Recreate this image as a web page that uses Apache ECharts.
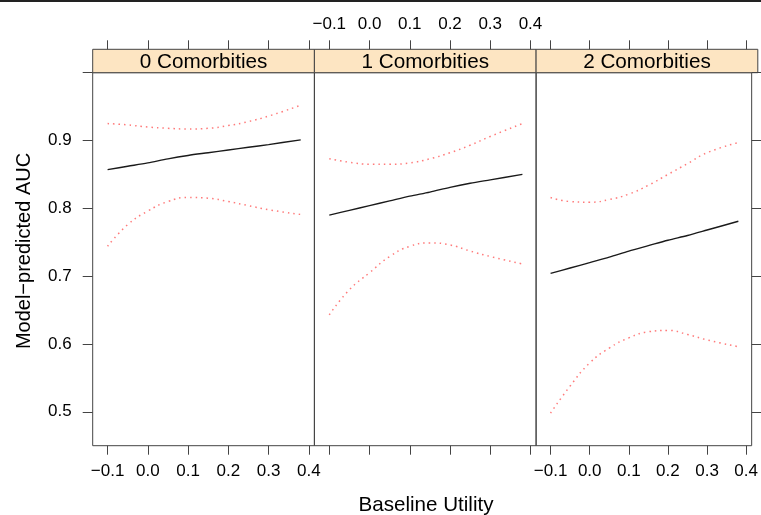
<!DOCTYPE html>
<html>
<head>
<meta charset="utf-8">
<script src="https://cdn.jsdelivr.net/npm/echarts@6/dist/echarts.min.js"></script>
<style>
  html, body { margin: 0; padding: 0; background: #fff; }
  #main { width: 761px; height: 515px; }
</style>
</head>
<body>
<div id="main"></div>
<script>
// panel names
var panels = ['0 Comorbities', '1 Comorbities', '2 Comorbities'];

// baseline utility values where the curves are read
var utility = [-0.1, -0.05, 0.0, 0.05, 0.1, 0.15, 0.2, 0.25, 0.3, 0.38];

// model-predicted AUC, one array per panel
var fit0 = [0.857, 0.862, 0.867, 0.873, 0.878, 0.882, 0.886, 0.890, 0.894, 0.901];
var upper0 = [0.925, 0.923, 0.920, 0.918, 0.917, 0.918, 0.922, 0.928, 0.936, 0.952];
var lower0 = [0.744, 0.776, 0.796, 0.810, 0.816, 0.815, 0.810, 0.804, 0.798, 0.791];

var fit1 = [0.790, 0.797, 0.804, 0.811, 0.818, 0.824, 0.831, 0.837, 0.842, 0.850];
var upper1 = [0.873, 0.868, 0.865, 0.865, 0.867, 0.873, 0.882, 0.893, 0.906, 0.925];
var lower1 = [0.643, 0.680, 0.705, 0.729, 0.744, 0.749, 0.746, 0.737, 0.729, 0.718];

var fit2 = [0.704, 0.712, 0.720, 0.728, 0.737, 0.745, 0.753, 0.760, 0.768, 0.781];
var upper2 = [0.816, 0.810, 0.809, 0.813, 0.821, 0.834, 0.850, 0.866, 0.882, 0.897];
var lower2 = [0.498, 0.538, 0.572, 0.594, 0.609, 0.618, 0.620, 0.614, 0.606, 0.596];

// axis ticks
var xTicks = [-0.1, 0.0, 0.1, 0.2, 0.3, 0.4];
var yTicks = [0.5, 0.6, 0.7, 0.8, 0.9, 1.0];
var yLabels = [0.5, 0.6, 0.7, 0.8, 0.9];

var fits = [fit0, fit1, fit2];
var uppers = [upper0, upper1, upper2];
var lowers = [lower0, lower1, lower2];

var FONT = '"Liberation Sans", Arial, sans-serif';
var panelLeft = 92.7, panelW = 221.7, panelTop = 72.7, panelH = 373;
var stripTop = 49.3, stripH = 23.4;

function pairs(ys) {
    return utility.map(function (x, i) { return [x, ys[i]]; });
}
function fmt(v) {
    return v.toFixed(1).replace('-', '\u2212');
}

var grids = [], xAxes = [], yAxes = [], series = [], graphics = [];

for (var i = 0; i < 3; i++) {
    var left = panelLeft + i * panelW;
    grids.push({
        left: left, top: panelTop, width: panelW, height: panelH,
        show: true, borderColor: '#444', borderWidth: 1
    });

    // bottom axis
    xAxes.push({
        type: 'value', gridIndex: i, position: 'bottom',
        min: -0.137, max: 0.414,
        axisLine: { show: false, onZero: false },
        splitLine: { show: false },
        axisTick: { show: true, inside: false, length: 9, customValues: xTicks,
            lineStyle: { color: '#444' } },
        axisLabel: { show: i !== 1, customValues: xTicks, formatter: fmt,
            fontSize: 17, color: '#000', fontFamily: FONT, margin: 17 }
    });
    // top axis above the strip
    xAxes.push({
        type: 'value', gridIndex: i, position: 'top', offset: stripH,
        min: -0.137, max: 0.414,
        axisLine: { show: false, onZero: false },
        splitLine: { show: false },
        axisTick: { show: true, inside: false, length: 9, customValues: xTicks,
            lineStyle: { color: '#444' } },
        axisLabel: { show: i === 1, customValues: xTicks, formatter: fmt,
            fontSize: 17, color: '#000', fontFamily: FONT, margin: 16 }
    });

    yAxes.push({
        type: 'value', gridIndex: i,
        position: i === 2 ? 'right' : 'left',
        min: 0.45, max: 1.0,
        axisLine: { show: false, onZero: false },
        splitLine: { show: false },
        axisTick: { show: i !== 1, inside: false, length: 10, customValues: yTicks,
            lineStyle: { color: '#444' } },
        axisLabel: { show: i === 0, customValues: yLabels,
            formatter: function (v) { return v.toFixed(1); },
            fontSize: 17, color: '#000', fontFamily: FONT, margin: 21 }
    });

    series.push({
        type: 'line', xAxisIndex: 2 * i, yAxisIndex: i,
        data: pairs(fits[i]), showSymbol: false, smooth: 0.3,
        lineStyle: { color: '#1a1a1a', width: 1.4 }, z: 3
    });
    series.push({
        type: 'line', xAxisIndex: 2 * i, yAxisIndex: i,
        data: pairs(uppers[i]), showSymbol: false, smooth: true,
        lineStyle: { color: '#ff4d4d', width: 1.5, type: [1.5, 4], opacity: 0.75 }
    });
    series.push({
        type: 'line', xAxisIndex: 2 * i, yAxisIndex: i,
        data: pairs(lowers[i]), showSymbol: false, smooth: true,
        lineStyle: { color: '#ff4d4d', width: 1.5, type: [1.5, 4], opacity: 0.75 }
    });

    // strip
    graphics.push({
        type: 'rect',
        shape: { x: left, y: stripTop, width: panelW, height: stripH },
        style: { fill: '#fde5c2', stroke: '#444', lineWidth: 1 }
    });
    graphics.push({
        type: 'text',
        x: left + panelW / 2, y: stripTop + stripH / 2 + 1,
        style: { text: panels[i], fill: '#000', font: '20.7px ' + FONT,
            align: 'center', verticalAlign: 'middle' }
    });
}

graphics.push({
    type: 'text',
    x: 24, y: 251, rotation: Math.PI / 2,
    style: { text: 'Model\u2212predicted AUC', fill: '#000', font: '20px ' + FONT,
        align: 'center', verticalAlign: 'middle' }
});
graphics.push({
    type: 'text',
    x: 426, y: 505,
    style: { text: 'Baseline Utility', fill: '#000', font: '20.6px ' + FONT,
        align: 'center', verticalAlign: 'middle' }
});
graphics.push({
    type: 'line',
    shape: { x1: 0, y1: 1, x2: 761, y2: 1 },
    style: { stroke: '#222', lineWidth: 2 }
});

var chart = echarts.init(document.getElementById('main'), null, { renderer: 'canvas' });
chart.setOption({
    backgroundColor: '#ffffff',
    animation: false,
    grid: grids,
    xAxis: xAxes,
    yAxis: yAxes,
    series: series,
    graphic: graphics
});
</script>
</body>
</html>
